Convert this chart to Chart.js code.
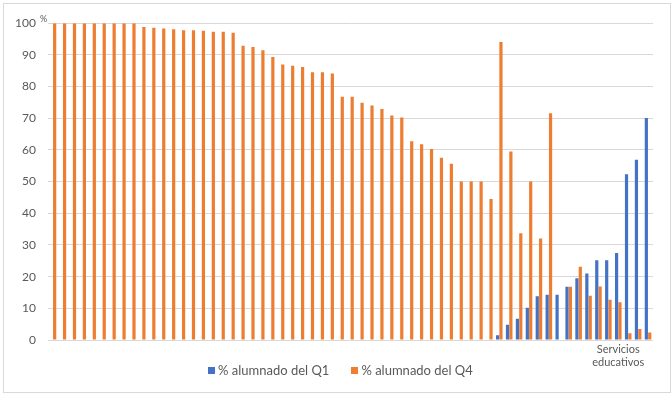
<!DOCTYPE html>
<html>
<head>
<meta charset="utf-8">
<script src="https://cdn.jsdelivr.net/npm/chart.js@4/dist/chart.umd.min.js"></script>
<style>
  html, body { margin: 0; padding: 0; background: #ffffff; }
  #wrap { position: absolute; left: 3px; top: 3px; width: 668px; height: 390px; border: 1px solid #d9d9d9; box-sizing: border-box; background: #fff; }
  #c { display: block; }
  #legend { position: absolute; left: 208px; top: 362px; height: 16px; white-space: nowrap;
            font-family: Lato, 'Open Sans', sans-serif; font-size: 13px; line-height: 16px; color: #595959; }
  #legend .item { display: inline-block; margin-right: 22px; }
  #legend .box { display: inline-block; width: 7px; height: 7px; margin-right: 3px; vertical-align: 1px; }
</style>
</head>
<body>
<div id="wrap"><canvas id="c" width="666" height="388"></canvas></div>
<div id="legend"></div>
<script>
const categories = [
  "", "", "", "", "", "", "", "", "", "",
  "", "", "", "", "", "", "", "", "", "",
  "", "", "", "", "", "", "", "", "", "",
  "", "", "", "", "", "", "", "", "", "",
  "", "", "", "", "", "", "", "", "", "",
  "", "", "", "", "", "", "", ["Servicios", "educativos"], "", "",
  ""
];
const q1Values = [
  0, 0, 0, 0, 0, 0, 0, 0, 0, 0,
  0, 0, 0, 0, 0, 0, 0, 0, 0, 0,
  0, 0, 0, 0, 0, 0, 0, 0, 0, 0,
  0, 0, 0, 0, 0, 0, 0, 0, 0, 0,
  0, 0, 0, 0, 0, 1.5, 4.8, 6.7, 10.2, 13.8,
  14.3, 14.3, 16.8, 19.5, 21.0, 25.2, 25.2, 27.5, 52.3, 56.9,
  70.1
];
const q4Values = [
  100, 100, 100, 100, 100, 100, 100, 100, 100, 98.8,
  98.6, 98.3, 98.1, 97.8, 97.8, 97.6, 97.3, 97.3, 97.0, 92.9,
  92.5, 91.5, 89.3, 87.0, 86.6, 86.2, 84.5, 84.5, 84.1, 76.8,
  76.8, 74.9, 74.0, 72.9, 70.9, 70.2, 62.7, 61.8, 60.3, 57.5,
  55.6, 50, 50, 50, 44.5, 94.1, 59.5, 33.7, 50, 32.0,
  71.6, 0, 16.8, 23.1, 14.0, 16.9, 12.7, 11.9, 2.1, 3.5,
  2.4
];
const seriesNames = ["% alumnado del Q1", "% alumnado del Q4"];
const seriesColors = ["#4472C4", "#ED7D31"];
const yTicks = [0, 10, 20, 30, 40, 50, 60, 70, 80, 90, 100];
const unitLabel = "%";

const FONT = "Lato, 'Open Sans', sans-serif";
const GREY = "#595959";

const percentPlugin = {
  id: 'percentLabel',
  afterDraw(chart) {
    const y = chart.scales.y;
    const ctx = chart.ctx;
    ctx.save();
    ctx.font = "9px " + FONT;
    ctx.fillStyle = GREY;
    ctx.textAlign = "left";
    ctx.textBaseline = "middle";
    ctx.fillText(unitLabel, y.right - 8, y.getPixelForValue(yTicks[yTicks.length - 1]) - 4);
    ctx.restore();
  }
};

const chart = new Chart(document.getElementById('c'), {
  type: 'bar',
  data: {
    labels: categories,
    datasets: [
      { label: seriesNames[0], data: q1Values, backgroundColor: seriesColors[0], borderWidth: 0 },
      { label: seriesNames[1], data: q4Values, backgroundColor: seriesColors[1], borderWidth: 0 }
    ]
  },
  options: {
    responsive: false,
    animation: false,
    events: [],
    categoryPercentage: 0.68,
    barPercentage: 0.95,
    layout: { padding: { left: 0, right: 17, top: 18, bottom: 0 } },
    plugins: {
      tooltip: { enabled: false },
      legend: { display: false }
    },
    scales: {
      x: {
        grid: { display: false, drawTicks: false },
        border: { display: false },
        ticks: {
          autoSkip: false,
          maxRotation: 0,
          minRotation: 0,
          padding: 3,
          font: { family: FONT, size: 11 },
          color: GREY
        },
        afterFit(s) { s.height = 52; }
      },
      y: {
        min: 0,
        max: 100,
        afterBuildTicks(s) { s.ticks = yTicks.map(v => ({ value: v })); },
        grid: { color: "#d9d9d9", lineWidth: 1, drawTicks: false },
        border: { display: false },
        ticks: {
          padding: 12,
          font: { family: FONT, size: 12 },
          color: GREY
        },
        afterFit(s) { s.width = 44; }
      }
    }
  },
  plugins: [percentPlugin]
});

// HTML legend built from the chart's datasets
const legendEl = document.getElementById('legend');
chart.data.datasets.forEach(ds => {
  const item = document.createElement('span');
  item.className = 'item';
  const box = document.createElement('span');
  box.className = 'box';
  box.style.background = ds.backgroundColor;
  item.appendChild(box);
  item.appendChild(document.createTextNode(ds.label));
  legendEl.appendChild(item);
});
</script>
</body>
</html>
